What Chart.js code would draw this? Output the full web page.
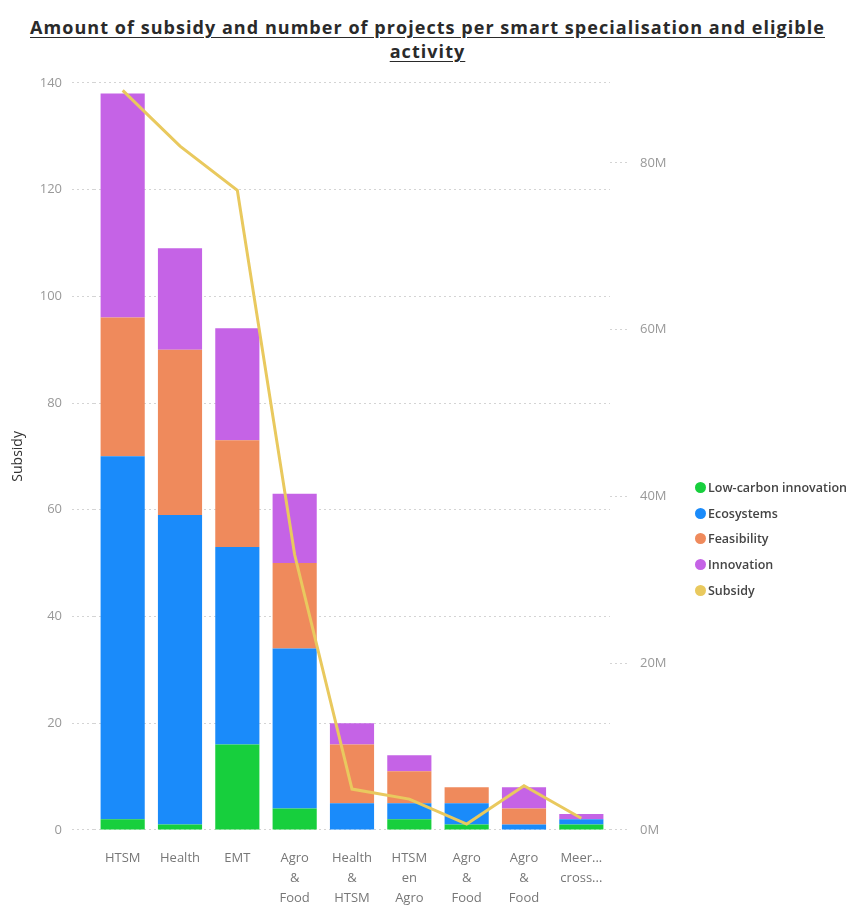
<!DOCTYPE html>
<html>
<head>
<meta charset="utf-8">
<script src="https://cdn.jsdelivr.net/npm/chart.js@4/dist/chart.umd.min.js"></script>
<style>
  html, body { margin: 0; padding: 0; background: #fff; width: 855px; height: 906px; overflow: hidden; }
  #title {
    position: absolute; left: 0; top: 15px; width: 855px; text-align: center;
    font-family: "Open Sans", "Liberation Sans", sans-serif; font-weight: 700; font-size: 18px;
    line-height: 24px; color: #2a2a2a; text-decoration: underline; text-underline-offset: 3px;
  }
  #wrap { position: absolute; left: 0; top: 65px; width: 855px; height: 853px; }
  #legend { position: absolute; left: 695px; top: 478px; font-family: "Open Sans", sans-serif; font-size: 12.5px; font-weight: 600; color: #444; }
  #legend div { height: 25.7px; line-height: 20px; white-space: nowrap; }
  #legend span { display: inline-block; width: 11px; height: 11px; border-radius: 50%; margin-right: 2px; vertical-align: -1px; }
</style>
</head>
<body>
<div id="title"><span id="t1">Amount of subsidy and number of projects per smart specialisation and eligible</span><br><span id="t2">activity</span></div>
<div id="wrap"><canvas id="chart"></canvas></div>
<div id="legend"></div>
<script>
  // Categorías (etiquetas del eje X)
  const categories = ["HTSM", "Health", "EMT", ["Agro", "&", "Food"], ["Health", "&", "HTSM"],
    ["HTSM", "en", "Agro"], ["Agro", "&", "Food"], ["Agro", "&", "Food"], ["Meer...", "cross..."]];

  // Número de proyectos por actividad
  const lowCarbon   = [2, 1, 16, 4, 0, 2, 1, 0, 1];
  const ecosystems  = [68, 58, 37, 30, 5, 3, 4, 1, 1];
  const feasibility = [26, 31, 20, 16, 11, 6, 3, 3, 0];
  const innovation  = [42, 19, 21, 13, 4, 3, 0, 4, 1];

  // Subsidio (eje derecho)
  const subsidy = [88700000, 82000000, 76700000, 33000000, 4900000, 3700000, 700000, 5300000, 1400000];

  const leftTicks = [0, 20, 40, 60, 80, 100, 120, 140];
  const rightTickStep = 20000000;

  // Ajustar el espaciado del título al ancho del original
  const t1 = document.getElementById("t1");
  const spacing = (795 - t1.getBoundingClientRect().width) / t1.textContent.length;
  document.getElementById("title").style.letterSpacing = spacing + "px";

  const tickFont = { family: "Open Sans", size: 13 };
  const gridColor = "#d4d4d4";

  const chart = new Chart(document.getElementById("chart"), {
    data: {
      labels: categories,
      datasets: [
        { type: "line", label: "Subsidy", data: subsidy, yAxisID: "y1", borderColor: "#E9C95E", backgroundColor: "#E9C95E",
          borderWidth: 3, pointRadius: 0, tension: 0, order: 0 },
        { type: "bar", label: "Low-carbon innovation", data: lowCarbon, backgroundColor: "#17CF3D", order: 1 },
        { type: "bar", label: "Ecosystems", data: ecosystems, backgroundColor: "#1A8BFA", order: 1 },
        { type: "bar", label: "Feasibility", data: feasibility, backgroundColor: "#EF8A5C", order: 1 },
        { type: "bar", label: "Innovation", data: innovation, backgroundColor: "#C563E6", order: 1 }
      ]
    },
    options: {
      responsive: true,
      maintainAspectRatio: false,
      animation: false,
      layout: { padding: { top: 4, left: 0, right: 175, bottom: 0 } },
      datasets: { bar: { barPercentage: 0.77, categoryPercentage: 1, borderWidth: 0 } },
      scales: {
        x: {
          stacked: true,
          grid: { display: false },
          border: { display: false },
          ticks: { color: "#777", font: { family: "Open Sans", size: 13, lineHeight: 1.54 }, padding: 10, maxRotation: 0, autoSkip: false }
        },
        y: {
          stacked: true,
          min: 0, max: 140,
          afterBuildTicks: s => { s.ticks = leftTicks.map(v => ({ value: v })); },
          afterFit: s => { s.width = 94; },
          grid: { color: gridColor, lineWidth: 1, drawTicks: true, tickLength: 22, tickBorderDash: [2, 3], tickColor: gridColor },
          border: { display: false, dash: [2, 3] },
          ticks: { color: "#999", font: tickFont, padding: 10 },
          title: { display: true, text: "Subsidy", color: "#333", font: { family: "Open Sans", size: 14 }, padding: { top: 10, bottom: 0 } }
        },
        y1: {
          position: "right",
          min: 0, max: 89600000,
          afterBuildTicks: s => {
            const t = [];
            for (let v = 0; v <= s.max; v += rightTickStep) t.push({ value: v });
            s.ticks = t;
          },
          afterFit: s => { s.width = 70; },
          grid: { drawOnChartArea: false, drawTicks: true, tickLength: 20, tickBorderDash: [2, 3], tickColor: gridColor },
          border: { display: false },
          ticks: { color: "#999", font: tickFont, padding: 10, callback: v => (v / 1000000) + "M" }
        }
      },
      plugins: {
        legend: { display: false },
        tooltip: { enabled: false }
      }
    }
  });

  // Leyenda HTML construida desde los datasets del gráfico
  const legendOrder = ["Low-carbon innovation", "Ecosystems", "Feasibility", "Innovation", "Subsidy"];
  const legendEl = document.getElementById("legend");
  legendOrder.forEach(name => {
    const ds = chart.data.datasets.find(d => d.label === name);
    const row = document.createElement("div");
    const dot = document.createElement("span");
    dot.style.background = ds.backgroundColor;
    row.appendChild(dot);
    row.appendChild(document.createTextNode(ds.label));
    legendEl.appendChild(row);
  });
</script>
</body>
</html>
